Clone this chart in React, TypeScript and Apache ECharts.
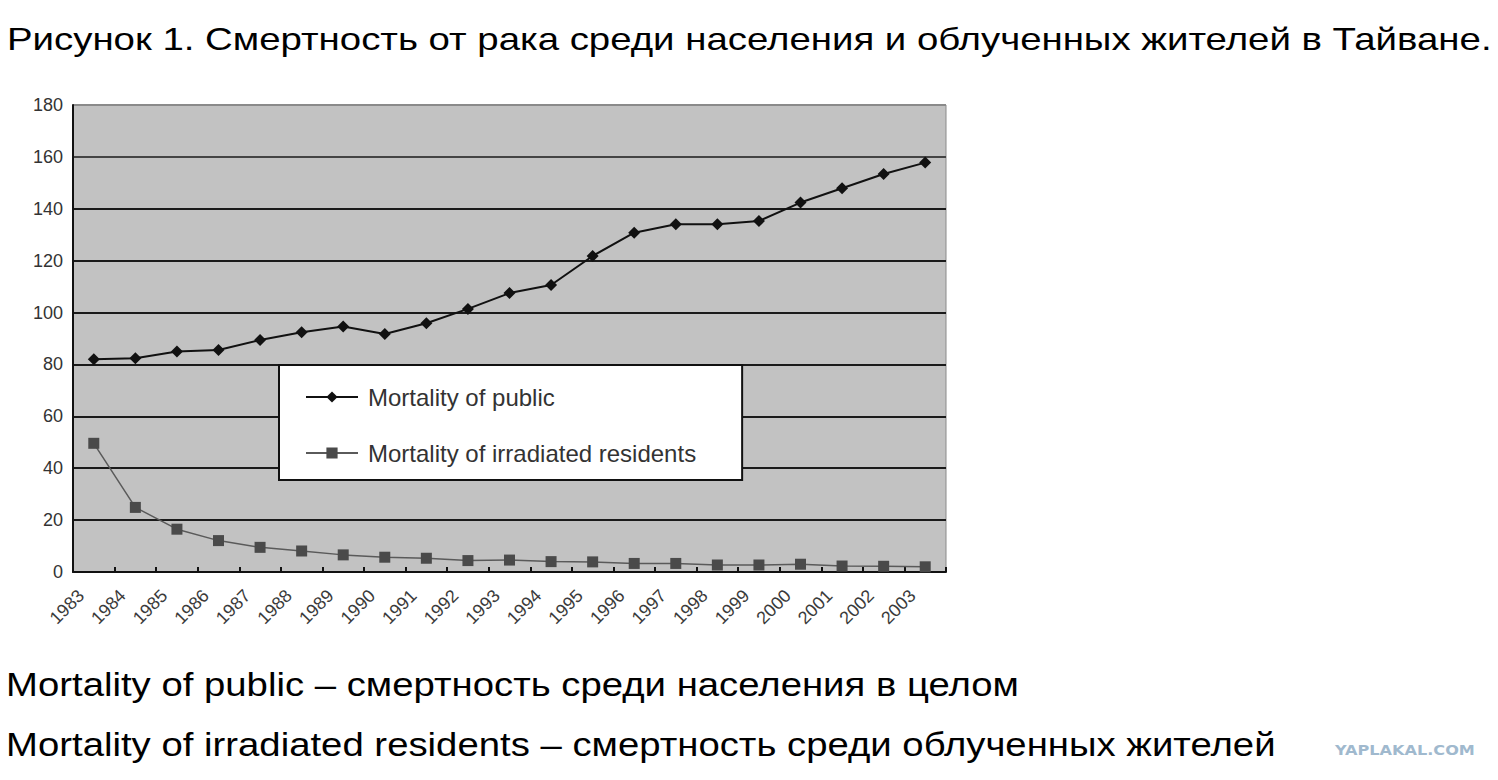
import React, { useEffect, useRef } from "react";
import * as echarts from "echarts";

const years = ["1983","1984","1985","1986","1987","1988","1989","1990","1991","1992","1993","1994","1995","1996","1997","1998","1999","2000","2001","2002","2003"];
const publicMortality = [82, 82.4, 85, 85.6, 89.4, 92.4, 94.6, 91.7, 95.9, 101.4, 107.5, 110.6, 121.8, 130.8, 134, 134, 135.3, 142.4, 147.9, 153.4, 157.8];
const irradiatedMortality = [49.6, 24.9, 16.5, 12.1, 9.5, 8.1, 6.6, 5.7, 5.3, 4.4, 4.6, 4.0, 3.9, 3.3, 3.3, 2.7, 2.7, 3.0, 2.3, 2.2, 2.0];
const seriesNames = ["Mortality of public", "Mortality of irradiated residents"];
const titleText = "Рисунок 1. Смертность от рака среди населения и облученных жителей в Тайване.";
const noteLines = [
  "Mortality of public – смертность среди населения в целом",
  "Mortality of irradiated residents – смертность среди облученных жителей",
];
const watermark = "YAPLAKAL.COM";

const FONT = '"Liberation Sans", Arial, sans-serif';

export default function App() {
  const ref = useRef<HTMLDivElement>(null);
  useEffect(() => {
    if (!ref.current) return;
    const chart = echarts.init(ref.current, null, { renderer: "svg" });
    chart.setOption({
      animation: false,
      backgroundColor: "#ffffff",
      grid: {
        left: 73,
        right: 552,
        top: 105,
        bottom: 208,
        show: true,
        backgroundColor: "#c2c2c2",
        borderColor: "#8a8a8a",
        borderWidth: 1,
      },
      xAxis: {
        type: "category",
        data: years,
        boundaryGap: true,
        axisLine: { show: true, lineStyle: { color: "#111", width: 2 } },
        axisTick: { show: true, inside: true, length: 5, lineStyle: { color: "#111", width: 2 } },
        axisLabel: {
          rotate: 45,
          margin: 8,
          interval: 0,
          formatter: (v: string) => `{y|${v}}`,
          rich: {
            y: {
              fontSize: 18,
              color: "#3a3a3a",
              fontFamily: FONT,
              padding: [0, 18, 0, 0],
            },
          },
        },
        splitLine: { show: false },
      },
      yAxis: {
        type: "value",
        min: 0,
        max: 180,
        interval: 20,
        axisLine: { show: true, lineStyle: { color: "#111", width: 2 } },
        axisTick: { show: false },
        axisLabel: { margin: 10, fontSize: 18, color: "#333", fontFamily: FONT },
        splitLine: {
          show: true,
          lineStyle: {
            color: ["#111", "#1a1a1a", "#1a1a1a", "#1a1a1a", "#1a1a1a", "#1a1a1a", "#1a1a1a", "#1a1a1a", "#444", "#8a8a8a"],
            width: 2,
          },
        },
      },
      legend: {
        orient: "vertical",
        left: 279,
        top: 365,
        backgroundColor: "#ffffff",
        borderColor: "#111",
        borderWidth: 2,
        borderRadius: 0,
        padding: [20, 46, 15, 26],
        itemWidth: 52,
        itemHeight: 14,
        itemGap: 32,
        data: seriesNames,
        textStyle: {
          fontSize: 24,
          lineHeight: 24,
          color: "#333",
          fontFamily: FONT,
          padding: [0, 0, 0, 5],
        },
      },
      series: [
        {
          name: seriesNames[0],
          type: "line",
          data: publicMortality,
          symbol: "diamond",
          symbolSize: 12,
          lineStyle: { color: "#111", width: 2 },
          itemStyle: { color: "#111" },
          z: 3,
        },
        {
          name: seriesNames[1],
          type: "line",
          data: irradiatedMortality,
          symbol: "rect",
          symbolSize: 11,
          lineStyle: { color: "#5a5a5a", width: 1.5 },
          itemStyle: { color: "#4a4a4a" },
          z: 3,
        },
      ],
      graphic: [
        {
          type: "text",
          x: 7,
          y: 23,
          scaleX: 1.2,
          style: { text: titleText, font: `32px ${FONT}`, fill: "#000" },
        },
        {
          type: "text",
          x: 6,
          y: 667,
          scaleX: 1.127,
          style: { text: noteLines[0], font: `34px ${FONT}`, fill: "#000" },
        },
        {
          type: "text",
          x: 6,
          y: 727,
          scaleX: 1.127,
          style: { text: noteLines[1], font: `34px ${FONT}`, fill: "#000" },
        },
        {
          type: "text",
          x: 1335,
          y: 743,
          scaleX: 1.15,
          style: { text: watermark, font: `900 14px "DejaVu Sans", sans-serif`, fill: "#a0b9ce" },
        },
      ],
    });
    return () => chart.dispose();
  }, []);
  return (
    <div
      ref={ref}
      style={{ position: "absolute", left: 0, top: 0, width: 1498, height: 780 }}
    />
  );
}
